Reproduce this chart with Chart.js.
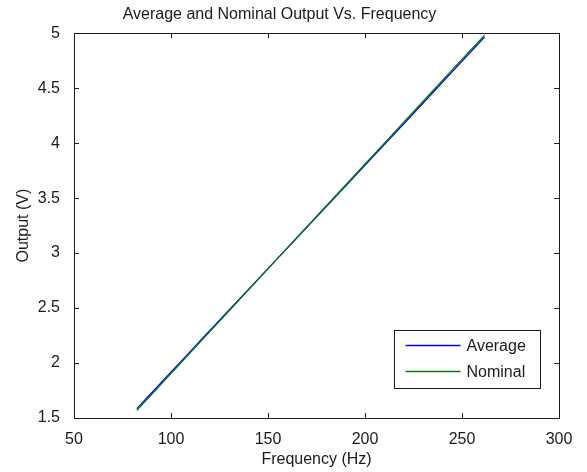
<!DOCTYPE html>
<html>
<head>
<meta charset="utf-8">
<script src="https://cdn.jsdelivr.net/npm/chart.js@4"></script>
<style>
  html, body { margin: 0; padding: 0; background: #fff; }
  #wrap { width: 587px; height: 472px; }
</style>
</head>
<body>
<div id="wrap"><canvas id="chart" width="587" height="472"></canvas></div>
<script>
// Data (chromatic note frequencies E2..C4)
const frequencies = [82.41, 87.31, 92.50, 98.00, 103.83, 110.00, 116.54, 123.47, 130.81, 138.59,
  146.83, 155.56, 164.81, 174.61, 185.00, 196.00, 207.65, 220.00, 233.08, 246.94, 261.63];
const averageOut = [1.585, 1.677, 1.775, 1.880, 1.990, 2.106, 2.230, 2.360, 2.498, 2.644,
  2.799, 2.963, 3.137, 3.322, 3.517, 3.724, 3.944, 4.177, 4.424, 4.687, 4.966];
const nominalOut = [1.570, 1.663, 1.762, 1.867, 1.978, 2.095, 2.220, 2.352, 2.492, 2.640,
  2.797, 2.963, 3.139, 3.326, 3.524, 3.733, 3.955, 4.190, 4.440, 4.704, 4.983];
const seriesNames = ['Average', 'Nominal'];
const seriesColors = ['#0000ff', '#008000'];

const FONT = 'Arial, "Liberation Sans", sans-serif';
const INK = '#1a1a1a';

// MATLAB style box with inward ticks + legend inside the axes
const matlabBox = {
  id: 'matlabBox',
  afterDraw(chart) {
    const { ctx, chartArea: a, scales } = chart;
    ctx.save();
    ctx.strokeStyle = INK;
    ctx.lineWidth = 1;
    ctx.strokeRect(Math.round(a.left) + 0.5, Math.round(a.top) + 0.5,
      Math.round(a.right - a.left), Math.round(a.bottom - a.top));
    const len = 5;
    ctx.beginPath();
    scales.x.ticks.forEach(t => {
      const px = Math.round(scales.x.getPixelForValue(t.value)) + 0.5;
      ctx.moveTo(px, a.bottom); ctx.lineTo(px, a.bottom - len);
      ctx.moveTo(px, a.top); ctx.lineTo(px, a.top + len);
    });
    scales.y.ticks.forEach(t => {
      const py = Math.round(scales.y.getPixelForValue(t.value)) + 0.5;
      ctx.moveTo(a.left, py); ctx.lineTo(a.left + len, py);
      ctx.moveTo(a.right, py); ctx.lineTo(a.right - len, py);
    });
    ctx.stroke();

    // legend
    const lx = 394.5, ly = 330.5, lw = 146, lh = 58;
    ctx.fillStyle = '#fff';
    ctx.fillRect(lx, ly, lw, lh);
    ctx.strokeStyle = INK;
    ctx.lineWidth = 1;
    ctx.strokeRect(lx, ly, lw, lh);
    ctx.font = '16px ' + FONT;
    ctx.textBaseline = 'middle';
    for (let i = 0; i < seriesNames.length; i++) {
      const y = Math.round(ly + 14 + i * 26) + 0.5;
      ctx.beginPath();
      ctx.strokeStyle = seriesColors[i];
      ctx.lineWidth = 1.5;
      ctx.moveTo(lx + 11, y);
      ctx.lineTo(lx + 66, y);
      ctx.stroke();
      ctx.fillStyle = INK;
      ctx.fillText(seriesNames[i], lx + 72, y + 1);
    }
    ctx.restore();
  }
};

new Chart(document.getElementById('chart'), {
  type: 'line',
  data: {
    labels: frequencies,
    datasets: [
      {
        label: seriesNames[0],
        data: frequencies.map((f, i) => ({ x: f, y: averageOut[i] })),
        borderColor: seriesColors[0],
        borderWidth: 1.3,
        pointRadius: 0,
        tension: 0,
        order: 1
      },
      {
        label: seriesNames[1],
        data: frequencies.map((f, i) => ({ x: f, y: nominalOut[i] })),
        borderColor: seriesColors[1],
        borderWidth: 1.3,
        pointRadius: 0,
        tension: 0,
        order: 0
      }
    ]
  },
  options: {
    responsive: false,
    animation: false,
    layout: { padding: { left: 0, right: 28, top: 0, bottom: 0 } },
    plugins: {
      legend: { display: false },
      tooltip: { enabled: false },
      title: {
        display: true,
        text: 'Average and Nominal Output Vs. Frequency',
        color: INK,
        font: { family: FONT, size: 16, weight: 'normal' },
        padding: { top: 5, bottom: 9 }
      }
    },
    scales: {
      x: {
        type: 'linear',
        min: 50, max: 300,
        ticks: { stepSize: 50, color: INK, font: { family: FONT, size: 16 }, padding: 4, maxRotation: 0 },
        grid: { display: false },
        border: { display: false },
        title: {
          display: true, text: 'Frequency (Hz)', color: INK,
          font: { family: FONT, size: 16 }, padding: { top: 0, bottom: 3 }
        },
        afterFit(scale) { scale.height = 54; }
      },
      y: {
        min: 1.5, max: 5,
        ticks: {
          stepSize: 0.5, color: INK, font: { family: FONT, size: 16 }, padding: 6,
          callback: v => String(v)
        },
        grid: { display: false },
        border: { display: false },
        title: {
          display: true, text: 'Output (V)', color: INK,
          font: { family: FONT, size: 16 }, padding: { top: 14, bottom: 0 }
        },
        afterFit(scale) { scale.width = 74; }
      }
    }
  },
  plugins: [matlabBox]
});
</script>
</body>
</html>
